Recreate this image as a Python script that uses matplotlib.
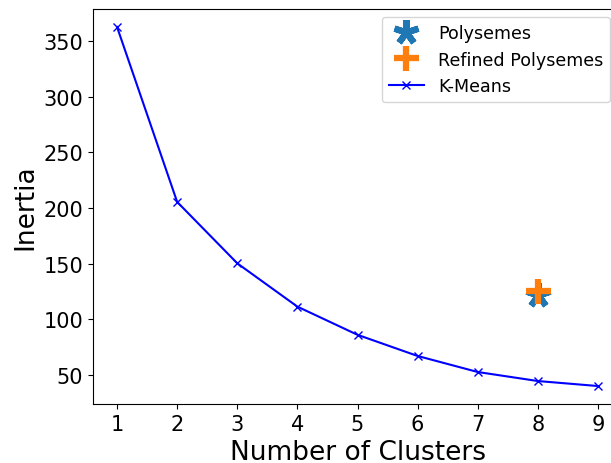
import matplotlib
matplotlib.use("Agg")
import matplotlib.pyplot as plt

clusters = [1, 2, 3, 4, 5, 6, 7, 8, 9]
inertia = [362.6, 205.5, 150.4, 111.5, 86.2, 67.2, 52.8, 44.7, 40.2]

poly_k = [8]
poly_inertia = [121.5]
refined_k = [8]
refined_inertia = [125.5]

fig = plt.figure(figsize=(6.11, 4.64), dpi=100)
ax = fig.add_axes([93 / 611, 59 / 464, 529 / 611, 395 / 464])

ax.plot(poly_k, poly_inertia, linestyle="none", marker=(5, 2, 0), color="#1f77b4",
        markersize=18, markeredgewidth=4.5, label="Polysemes")
ax.plot(refined_k, refined_inertia, linestyle="none", marker="+", color="#ff7f0e",
        markersize=18, markeredgewidth=4.5, label="Refined Polysemes")
ax.plot(clusters, inertia, color="blue", marker="x", label="K-Means")

ax.set_xticks(clusters)
ax.tick_params(labelsize=15)
ax.set_xlabel("Number of Clusters", fontsize=19)
ax.set_ylabel("Inertia", fontsize=19)
ax.legend(loc="upper left", fontsize=12.6,
          bbox_to_anchor=(373 / 611, 1 - 9 / 464), bbox_transform=fig.transFigure)

fig.savefig("out.png", dpi=100)
